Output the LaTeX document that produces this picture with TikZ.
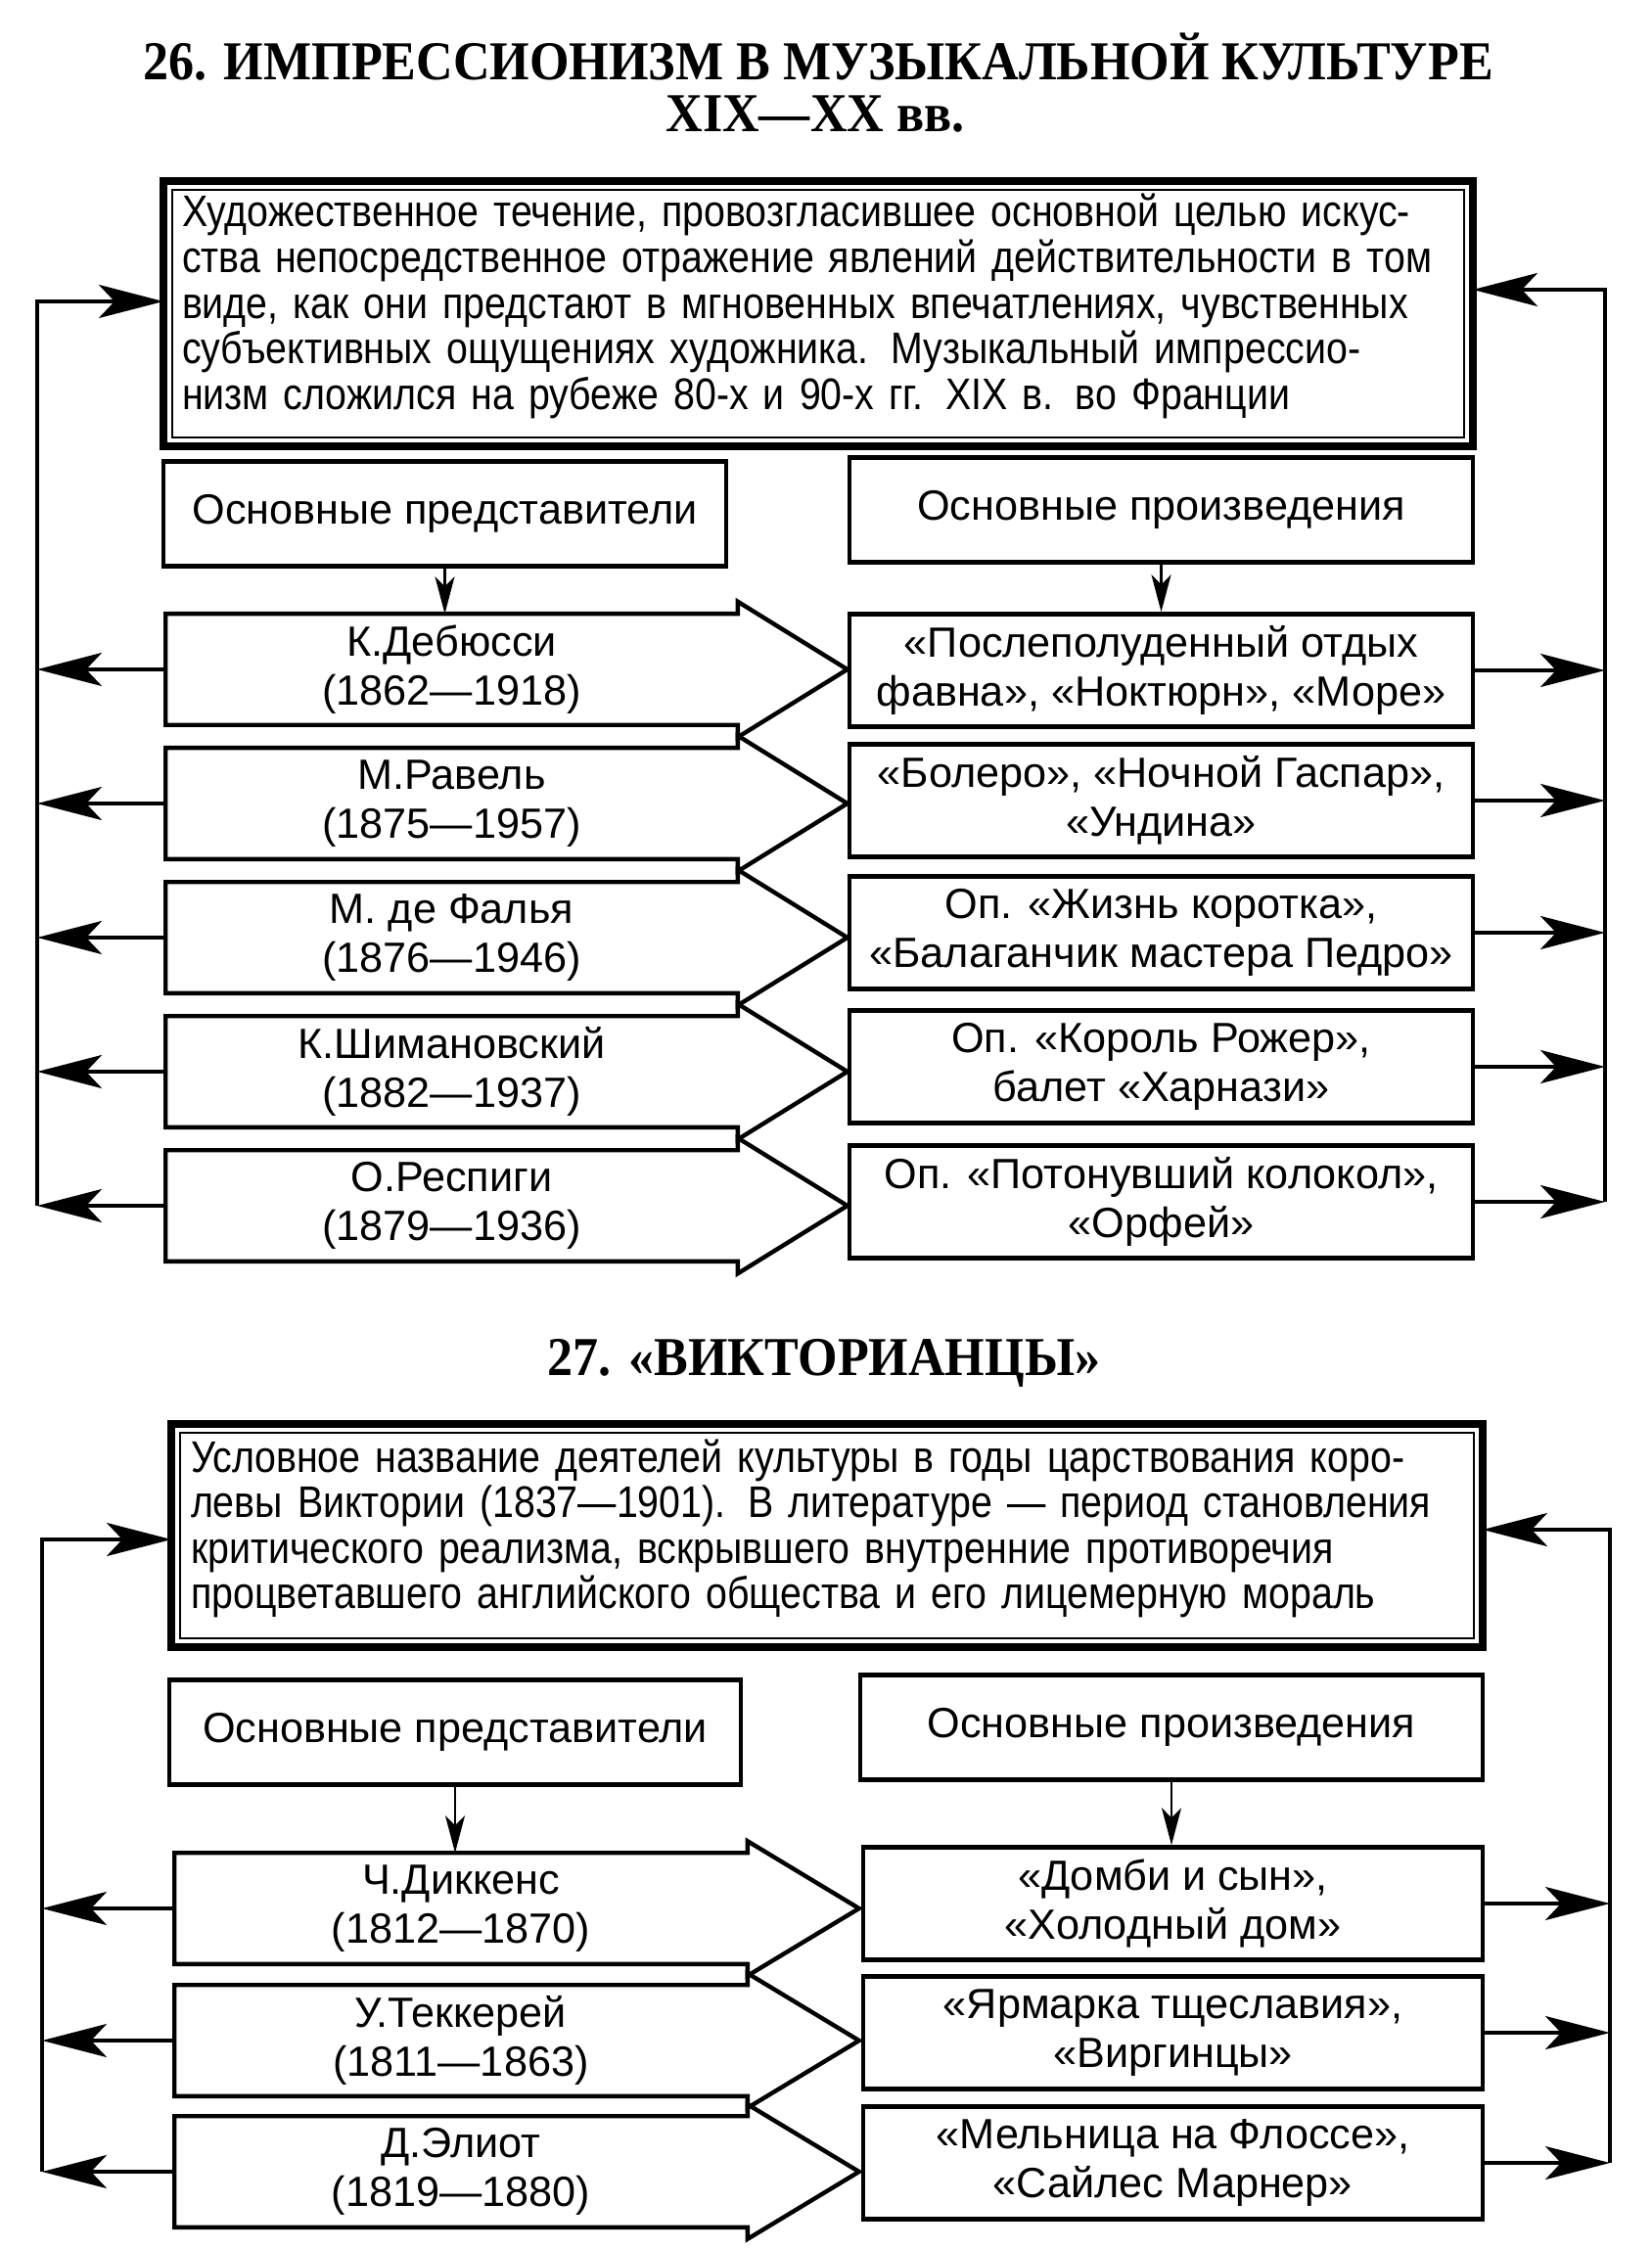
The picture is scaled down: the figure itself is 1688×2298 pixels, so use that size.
\documentclass[tikz,border=0pt]{standalone}
\usepackage{fontspec}
\setmainfont{Liberation Sans}
\newfontfamily\titlefont[FakeStretch=0.93]{Liberation Serif}
\newfontfamily\bodyfont[FakeStretch=0.87]{Liberation Sans}
\usetikzlibrary{arrows.meta,calc}

\begin{document}
\begin{tikzpicture}[x=0.25pt,y=-0.25pt,
        heading/.style={font=\titlefont\bfseries\fontsize{14}{16}\selectfont},
        frame/.style={draw,line width=2pt,inner sep=0pt,outer sep=0pt},
        deftext/.style={inner sep=0pt,text width=325pt,align=left},
        header/.style={draw,line width=1.1pt,inner sep=0pt,minimum height=26.75pt,font=\fontsize{10.8}{12.5}\selectfont},
        author/.style={inner sep=0pt,minimum height=28pt,align=center,font=\fontsize{10.8}{12.5}\selectfont},
        work/.style={draw,line width=1.1pt,inner sep=0pt,minimum height=28.75pt,align=center,font=\fontsize{10.8}{12.5}\selectfont},
        outline/.style={line width=1.1pt,line join=miter},
        big/.style={line width=1pt,-{Stealth[length=16.5pt,width=8.5pt,inset=4pt]}},
        small/.style={line width=0.6pt,-{Stealth[length=9.5pt,width=5pt,inset=2.5pt]}}]
        \useasboundingbox (0,0) rectangle (1688,2298);

        % 26
        \node[heading] (T1) at (836,58) {26. ИМПРЕССИОНИЗМ В МУЗЫКАЛЬНОЙ КУЛЬТУРЕ};
        \node[heading] (T2) at (833,117) {XIX—XX вв.};
        \node[frame,minimum width=334.5pt,minimum height=67.75pt] (F1) at (836,320.5) {};
        \draw[line width=0.5pt] ([shift={(2.2pt,-2.2pt)}]F1.north west) rectangle ([shift={(-2.2pt,2.2pt)}]F1.south east);
        \node[deftext,font=\bodyfont\fontsize{11.3}{11.7}\selectfont] (D1) at (836,313) {%
            \makebox[325pt][s]{Художественное течение, провозгласившее основной целью искус-}\\
            \makebox[325pt][s]{ства непосредственное отражение явлений действительности в том}\\
            \makebox[325pt][s]{виде, как они предстают в мгновенных впечатлениях, чувственных}\\
            \makebox[325pt][s]{субъективных ощущениях художника. Музыкальный импрессио-}\\
            низм сложился на рубеже 80-х и 90-х гг. XIX в. во Франции};
        \node[header,minimum width=143.75pt] (H1) at (454.5,525) {Основные представители};
        \node[header,minimum width=159.25pt] (H2) at (1186.5,521) {Основные произведения};
        \foreach \i/\y/\name/\years in {1/684/К.Дебюсси/{(1862—1918)},2/821/М.Равель/{(1875—1957)},
                3/958/М. де Фалья/{(1876—1946)},4/1095/К.Шимановский/{(1882—1937)},5/1232/О.Респиги/{(1879—1936)}}
            \node[author,minimum width=145.75pt] (A\i) at (461.5,\y) {\name\\\years};
        \foreach \i/\y/\txt in {1/685/{«Послеполуденный отдых\\фавна», «Ноктюрн», «Море»},
                2/818/{«Болеро», «Ночной Гаспар»,\\«Ундина»},
                3/953/{Оп. «Жизнь коротка»,\\«Балаганчик мастера Педро»},
                4/1090/{Оп. «Король Рожер»,\\балет «Харнази»},
                5/1228/{Оп. «Потонувший колокол»,\\«Орфей»}}
            \node[work,minimum width=159.25pt] (W\i) at (1186.5,\y) {\txt};
        \foreach \n in {A1,A2,A3,A4,A5}
            \draw[outline] (\n.north west) -- (\n.north east) -- ++(0,-12.5) -- ($(\n.east)+(112,0)$)
                -- ($(\n.south east)+(0,12.5)$) -- (\n.south east) -- (\n.south west) -- cycle;
        \draw[small] (H1.south) -- (H1.south |- A1.north);
        \draw[small] (H2.south) -- (H2.south |- W1.north);
        \coordinate (L1) at (38,308);
        \coordinate (R1) at (1640,296);
        \foreach \i in {1,...,5} {
            \draw[big] (A\i.west) -- (A\i.west -| L1);
            \draw[big] (W\i.east) -- (W\i.east -| R1);
        }
        \draw[big] (A5.west -| L1) -- (L1) -- (L1 -| F1.west);
        \draw[big] (W5.east -| R1) -- (R1) -- (R1 -| F1.east);

        % 27
        \node[heading] (T3) at (842,1393) {27. «ВИКТОРИАНЦЫ»};
        \node[frame,minimum width=335pt,minimum height=57pt] (F2) at (845,1569) {};
        \draw[line width=0.5pt] ([shift={(2.2pt,-2.2pt)}]F2.north west) rectangle ([shift={(-2.2pt,2.2pt)}]F2.south east);
        \node[deftext,font=\bodyfont\fontsize{11.3}{11.6}\selectfont] (D2) at (845,1562) {%
            \makebox[325pt][s]{Условное название деятелей культуры в годы царствования коро-}\\
            \makebox[325pt][s]{левы Виктории (1837—1901). В литературе — период становления}\\
            \makebox[325pt][s]{критического реализма, вскрывшего внутренние противоречия}\\
            процветавшего английского общества и его лицемерную мораль};
        \node[header,minimum width=146pt] (H3) at (465,1770) {Основные представители};
        \node[header,minimum width=159pt] (H4) at (1197,1765) {Основные произведения};
        \foreach \i/\y/\name/\years in {1/1950/Ч.Диккенс/{(1812—1870)},2/2085/У.Теккерей/{(1811—1863)},3/2219/Д.Элиот/{(1819—1880)}}
            \node[author,minimum width=146pt] (B\i) at (471,\y) {\name\\\years};
        \foreach \i/\y/\txt in {1/1945/{«Домби и сын»,\\«Холодный дом»},
                2/2077/{«Ярмарка тщеславия»,\\«Виргинцы»},
                3/2210/{«Мельница на Флоссе»,\\«Сайлес Марнер»}}
            \node[work,minimum width=158.25pt] (V\i) at (1198.5,\y) {\txt};
        \foreach \n in {B1,B2,B3}
            \draw[outline] (\n.north west) -- (\n.north east) -- ++(0,-12) -- ($(\n.east)+(114,0)$)
                -- ($(\n.south east)+(0,12)$) -- (\n.south east) -- (\n.south west) -- cycle;
        \draw[small] (H3.south) -- (H3.south |- B1.north);
        \draw[small] (H4.south) -- (H4.south |- V1.north);
        \coordinate (L2) at (43,1573);
        \coordinate (R2) at (1645,1563);
        \foreach \i in {1,2,3} {
            \draw[big] (B\i.west) -- (B\i.west -| L2);
            \draw[big] (V\i.east) -- (V\i.east -| R2);
        }
        \draw[big] (B3.west -| L2) -- (L2) -- (L2 -| F2.west);
        \draw[big] (V3.east -| R2) -- (R2) -- (R2 -| F2.east);
    \end{tikzpicture}
\end{document}
